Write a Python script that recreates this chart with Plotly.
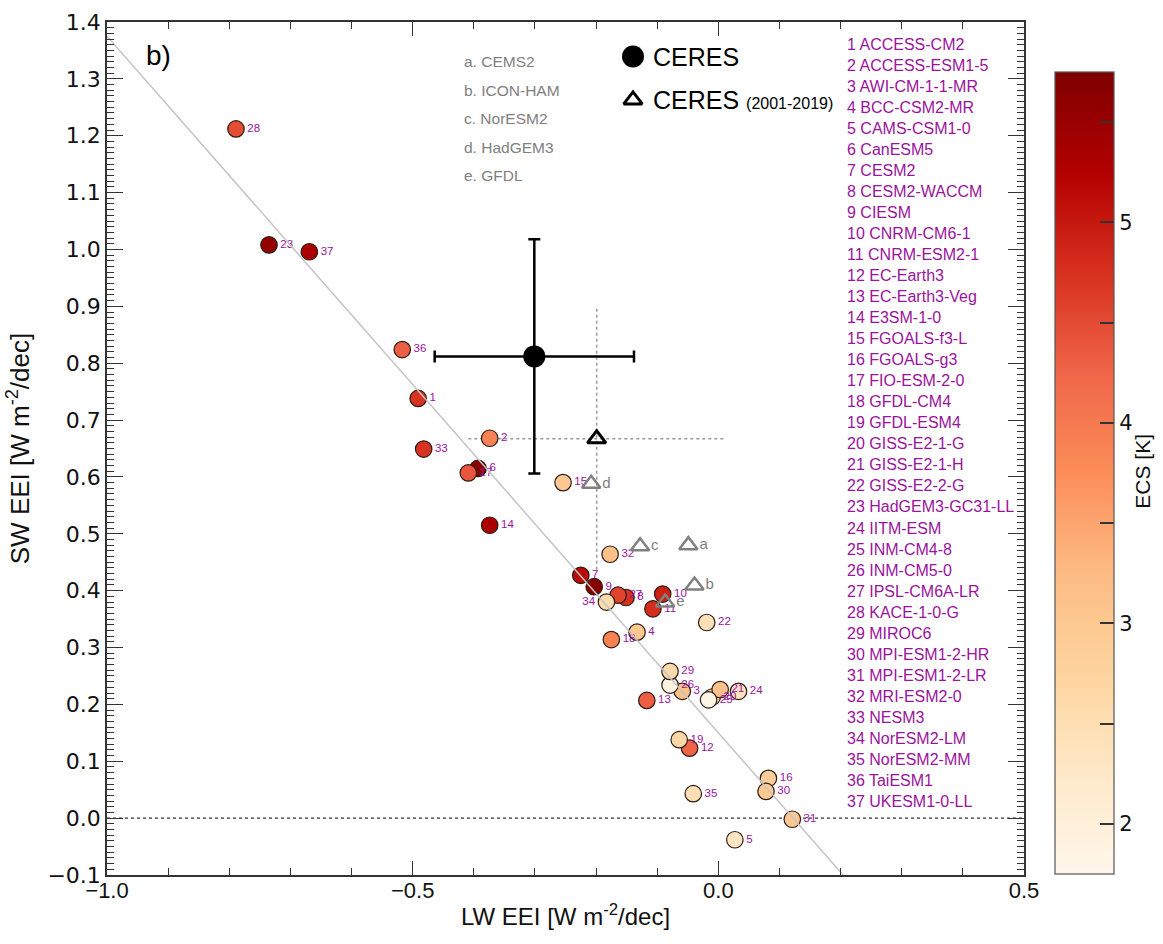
import plotly.graph_objects as go

# ---------------- data ----------------
model_ids = list(range(1, 38))
model_names = [
    "ACCESS-CM2", "ACCESS-ESM1-5", "AWI-CM-1-1-MR", "BCC-CSM2-MR", "CAMS-CSM1-0",
    "CanESM5", "CESM2", "CESM2-WACCM", "CIESM", "CNRM-CM6-1", "CNRM-ESM2-1",
    "EC-Earth3", "EC-Earth3-Veg", "E3SM-1-0", "FGOALS-f3-L", "FGOALS-g3",
    "FIO-ESM-2-0", "GFDL-CM4", "GFDL-ESM4", "GISS-E2-1-G", "GISS-E2-1-H",
    "GISS-E2-2-G", "HadGEM3-GC31-LL", "IITM-ESM", "INM-CM4-8", "INM-CM5-0",
    "IPSL-CM6A-LR", "KACE-1-0-G", "MIROC6", "MPI-ESM1-2-HR", "MPI-ESM1-2-LR",
    "MRI-ESM2-0", "NESM3", "NorESM2-LM", "NorESM2-MM", "TaiESM1", "UKESM1-0-LL",
]
lw_eei = [
    -0.491, -0.374, -0.059, -0.133, 0.027, -0.393, -0.225, -0.151, -0.203, -0.091,
    -0.107, -0.047, -0.117, -0.374, -0.254, 0.082, -0.409, -0.175, -0.064, -0.010,
    0.003, -0.019, -0.735, 0.033, -0.016, -0.079, -0.164, -0.789, -0.079, 0.078,
    0.121, -0.177, -0.482, -0.183, -0.041, -0.517, -0.669,
]
sw_eei = [
    0.738, 0.668, 0.223, 0.327, -0.038, 0.615, 0.427, 0.388, 0.407, 0.394,
    0.368, 0.123, 0.207, 0.515, 0.590, 0.070, 0.607, 0.314, 0.138, 0.213,
    0.226, 0.344, 1.008, 0.223, 0.208, 0.234, 0.392, 1.212, 0.258, 0.047,
    -0.002, 0.464, 0.649, 0.380, 0.043, 0.824, 0.996,
]
ecs = [
    4.72, 3.87, 3.16, 3.02, 2.29, 5.64, 5.15, 4.75, 5.67, 4.90,
    4.79, 4.26, 4.31, 5.31, 3.00, 2.88, 4.40, 3.89, 2.65, 2.72,
    3.11, 2.44, 5.55, 2.37, 1.83, 1.92, 4.56, 4.48, 2.60, 2.98,
    3.00, 3.15, 4.72, 2.56, 2.49, 4.31, 5.34,
]

# single-model experiments (grey triangles)
exp_letters = ["a", "b", "c", "d", "e"]
exp_names = ["CEMS2", "ICON-HAM", "NorESM2", "HadGEM3", "GFDL"]
exp_lw = [-0.049, -0.039, -0.128, -0.208, -0.087]
exp_sw = [0.480, 0.409, 0.478, 0.588, 0.379]

# observations
ceres_lw, ceres_sw = -0.301, 0.812
ceres_lw_err, ceres_sw_err = 0.163, 0.206
ceres19_lw, ceres19_sw = -0.199, 0.667
ceres19_lw_err, ceres19_sw_err = 0.210, 0.230

# regression line
reg_intercept, reg_slope = 0.150, -1.225

ecs_min, ecs_max = 1.75, 5.75

# ---------------- styling ----------------
PURPLE = "#9a139c"
GREY = "#808080"
FONT = "Liberation Sans, Arial, sans-serif"
WIDE = "DejaVu Sans, Verdana, sans-serif"
NARROW = "Liberation Sans Narrow, Liberation Sans, Arial, sans-serif"

W, H = 1163, 944
L, R, T, B = 107, 1024, 10, 875


def pxx(px):
    return (px - L) / (R - L)


def pxy(py):
    return (B - py) / (B - T)


fig = go.Figure()

# zero line (dotted)
fig.add_shape(type="line", xref="paper", yref="y", x0=0, x1=1, y0=0, y1=0,
              line=dict(color="#333333", width=1.3, dash="dot"), layer="below")

# CERES 2001-2019 dotted error bars
fig.add_trace(go.Scatter(
    x=[ceres19_lw - ceres19_lw_err, ceres19_lw + ceres19_lw_err, None, ceres19_lw, ceres19_lw],
    y=[ceres19_sw, ceres19_sw, None, ceres19_sw - ceres19_sw_err, ceres19_sw + ceres19_sw_err],
    mode="lines", line=dict(color="#9a9a9a", width=1.5, dash="dot"),
    hoverinfo="skip", showlegend=False))

# models
text_pos = ["middle right"] * len(model_ids)
text_pos[33] = "middle left"
fig.add_trace(go.Scatter(
    x=lw_eei, y=sw_eei, mode="markers+text",
    text=[str(i) for i in model_ids], textposition=text_pos,
    textfont=dict(size=11.5, color=PURPLE, family=FONT),
    marker=dict(size=16.5, color=ecs, colorscale="OrRd", cmin=ecs_min, cmax=ecs_max,
                line=dict(color="#2b1b14", width=1.2),
                colorbar=dict(
                    x=pxx(1055), xanchor="left", xref="paper", xpad=0, ypad=0,
                    y=pxy(874), yanchor="bottom", len=(874 - 61) / (B - T), lenmode="fraction",
                    thickness=59, thicknessmode="pixels",
                    outlinewidth=1.2, outlinecolor="#555555",
                    ticks="inside", ticklen=14, tickwidth=1.5, tickcolor="#333333",
                    tickvals=[2, 2.5, 3, 3.5, 4, 4.5, 5, 5.5],
                    ticktext=["2", " ", "3", " ", "4", " ", "5", " "],
                    tickfont=dict(size=21, family=WIDE, color="#111111"),
                )),
    hoverinfo="skip", showlegend=False, cliponaxis=False))

# regression line
x_end = (-0.1 - reg_intercept) / reg_slope
fig.add_trace(go.Scatter(
    x=[-1.0, x_end], y=[reg_intercept + reg_slope * (-1.0), reg_intercept + reg_slope * x_end],
    mode="lines", line=dict(color="#c4c4c4", width=1.5), hoverinfo="skip", showlegend=False))

# grey triangles
fig.add_trace(go.Scatter(
    x=exp_lw, y=exp_sw, mode="markers+text", text=exp_letters, textposition="middle right",
    textfont=dict(size=15, color=GREY, family=FONT),
    marker=dict(symbol="triangle-up-open", size=16, color=GREY, line=dict(width=2.5, color=GREY)),
    hoverinfo="skip", showlegend=False))

# CERES 2001-2019 triangle
fig.add_trace(go.Scatter(
    x=[ceres19_lw], y=[ceres19_sw], mode="markers",
    marker=dict(symbol="triangle-up-open", size=16, color="black", line=dict(width=3, color="black")),
    hoverinfo="skip", showlegend=False))

# CERES full period
fig.add_trace(go.Scatter(
    x=[ceres_lw], y=[ceres_sw], mode="markers",
    marker=dict(size=22, color="black"),
    error_x=dict(type="data", array=[ceres_lw_err], color="black", thickness=2.5, width=6),
    error_y=dict(type="data", array=[ceres_sw_err], color="black", thickness=2.5, width=6),
    hoverinfo="skip", showlegend=False))

# legend keys (on an overlay axis in paper-like units)
fig.add_trace(go.Scatter(
    x=[pxx(633)], y=[pxy(45)], xaxis="x2", yaxis="y2", mode="markers",
    marker=dict(size=22, color="black"), hoverinfo="skip", showlegend=False))
fig.add_trace(go.Scatter(
    x=[pxx(633)], y=[pxy(89)], xaxis="x2", yaxis="y2", mode="markers",
    marker=dict(symbol="triangle-up-open", size=16, color="black", line=dict(width=3, color="black")),
    hoverinfo="skip", showlegend=False))

annotations = []
annotations.append(dict(x=pxx(651), y=pxy(45), xref="paper", yref="paper", text="CERES",
                        showarrow=False, xanchor="left", yanchor="middle",
                        font=dict(size=25, family=FONT, color="black")))
annotations.append(dict(x=pxx(651), y=pxy(89), xref="paper", yref="paper",
                        text="CERES <span style='font-size:16px'>(2001-2019)</span>",
                        showarrow=False, xanchor="left", yanchor="middle",
                        font=dict(size=25, family=FONT, color="black")))
annotations.append(dict(x=pxx(144), y=pxy(44), xref="paper", yref="paper", text="b)",
                        showarrow=False, xanchor="left", yanchor="middle",
                        font=dict(size=28, family=FONT, color="black")))
for k, (let, nm) in enumerate(zip(exp_letters, exp_names)):
    annotations.append(dict(x=pxx(462), y=pxy(50.5 + k * 28.8), xref="paper", yref="paper",
                            text=f"{let}. {nm}", showarrow=False, xanchor="left", yanchor="middle",
                            font=dict(size=15.5, family=FONT, color=GREY)))
for k, (i, nm) in enumerate(zip(model_ids, model_names)):
    annotations.append(dict(x=pxx(845), y=pxy(33 + k * 21.31), xref="paper", yref="paper",
                            text=f"{i} {nm}", showarrow=False, xanchor="left", yanchor="middle",
                            font=dict(size=16, family=FONT, color=PURPLE)))
annotations.append(dict(x=pxx(1143), y=pxy(466), xref="paper", yref="paper", text="ECS [K]",
                        showarrow=False, textangle=-90, xanchor="center", yanchor="middle",
                        font=dict(size=21, family=NARROW, color="#111111")))

fig.update_layout(
    width=W, height=H, autosize=False,
    margin=dict(l=L, r=W - R, t=T, b=H - B, pad=0),
    plot_bgcolor="white", paper_bgcolor="white",
    showlegend=False,
    annotations=annotations,
    xaxis=dict(
        range=[-1.0, 0.5], dtick=0.5, tick0=-1.0, tickformat=".1f",
        showgrid=False, zeroline=False, showline=True, mirror="ticks",
        linecolor="#333333", linewidth=1.5,
        ticks="inside", ticklen=14, tickwidth=1.3, tickcolor="#333333",
        minor=dict(dtick=0.1, ticks="inside", ticklen=7, tickwidth=1.2, tickcolor="#333333", showgrid=False),
        tickfont=dict(size=22, family=FONT, color="#111111"),
        ticklabelstandoff=-5, ticklabeloverflow="allow",
        title=dict(text="LW EEI [W m<sup>-2</sup>/dec]", font=dict(size=24, family=NARROW, color="#111111"),
                   standoff=6),
    ),
    yaxis=dict(
        range=[-0.1, 1.4], dtick=0.1, tick0=0, tickformat=".1f",
        showgrid=False, zeroline=False, showline=True, mirror="ticks",
        linecolor="#333333", linewidth=1.5,
        ticks="inside", ticklen=16, tickwidth=1.3, tickcolor="#333333",
        minor=dict(dtick=0.01, ticks="inside", ticklen=7, tickwidth=1.0, tickcolor="#333333", showgrid=False),
        tickfont=dict(size=22, family=WIDE, color="#111111"),
        ticklabeloverflow="allow",
        title=dict(text="SW EEI [W m<sup>-2</sup>/dec]", font=dict(size=26, family=NARROW, color="#111111"),
                   standoff=10),
    ),
    xaxis2=dict(domain=[0, 1], range=[0, 1], overlaying="x", visible=False, anchor="y2"),
    yaxis2=dict(domain=[0, 1], range=[0, 1], overlaying="y", visible=False, anchor="x2"),
)

fig.write_html("out.html")
